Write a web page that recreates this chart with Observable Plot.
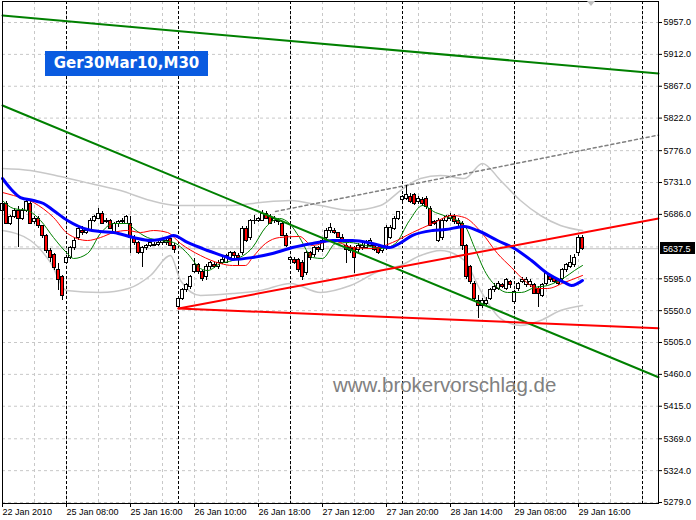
<!DOCTYPE html>
<html><head><meta charset="utf-8">
<script src="https://cdn.jsdelivr.net/npm/d3@7"></script>
<script src="https://cdn.jsdelivr.net/npm/@observablehq/plot@0.6"></script>
<style>
html,body{margin:0;padding:0;background:#fff;}
#wrap{position:relative;width:696px;height:520px;overflow:hidden;}
#title{position:absolute;left:45px;top:51px;width:163px;height:25px;background:#0a5be0;color:#fff;font:bold 15px "DejaVu Sans";line-height:25px;text-align:center;}
#wm{position:absolute;left:333px;top:375px;font:20.5px "Liberation Sans";line-height:1;color:#808080;white-space:nowrap;}
</style></head><body><div id="wrap"></div>
<script>
const symbolName = "Ger30Mar10,M30";
const watermark = "www.brokervorschlag.de";

const open = [5691,5700,5673,5682,5691,5680,5691,5701,5675,5680,
 5669,5655,5634,5628,5607,5597,5618,5625,5638,5652,
 5663,5659,5663,5677,5680,5687,5675,5677,5659,5672,
 5675,5673,5673,5653,5645,5632,5638,5642,5642,5643,
 5645,5645,5651,5642,5555,5567,5579,5583,5605,5614,
 5604,5597,5611,5615,5611,5618,5618,5624,5631,5627,
 5631,5666,5652,5676,5677,5677,5687,5683,5677,5677,
 5673,5656,5621,5622,5621,5618,5603,5631,5628,5638,
 5635,5653,5662,5663,5659,5653,5642,5639,5638,5635,
 5638,5639,5642,5642,5639,5634,5638,5653,5666,5680,
 5706,5708,5711,5713,5703,5707,5708,5694,5675,5649,
 5652,5677,5680,5683,5677,5673,5642,5611,5588,5564,
 5557,5560,5567,5579,5581,5586,5581,5590,5562,5581,
 5591,5586,5586,5586,5581,5571,5588,5597,5595,5593,
 5595,5607,5611,5614,5631,5653];
const high = [5706,5704,5684,5694,5697,5694,5706,5706,5683,5683,
 5670,5658,5638,5631,5617,5600,5628,5641,5652,5667,
 5669,5666,5680,5684,5694,5690,5680,5679,5675,5677,
 5680,5684,5683,5656,5648,5641,5643,5649,5646,5649,
 5652,5653,5652,5645,5570,5581,5588,5600,5624,5617,
 5607,5615,5619,5618,5621,5625,5629,5634,5634,5631,
 5669,5669,5679,5684,5682,5691,5690,5686,5683,5680,
 5675,5659,5627,5625,5624,5621,5634,5634,5641,5641,
 5652,5666,5673,5666,5660,5658,5645,5642,5641,5645,
 5645,5649,5652,5645,5641,5641,5670,5670,5683,5690,
 5713,5727,5715,5715,5711,5710,5711,5697,5677,5680,
 5680,5684,5687,5686,5680,5676,5643,5614,5591,5571,
 5567,5569,5581,5588,5591,5588,5595,5593,5579,5590,
 5597,5597,5594,5588,5584,5588,5605,5600,5598,5595,
 5610,5617,5628,5629,5656,5656];
const low = [5684,5672,5670,5680,5639,5677,5689,5672,5672,5666,
 5652,5631,5618,5607,5579,5564,5615,5622,5635,5649,
 5656,5658,5662,5675,5679,5672,5673,5665,5658,5667,
 5672,5672,5631,5642,5629,5611,5635,5639,5641,5641,
 5642,5642,5641,5631,5552,5564,5576,5580,5603,5601,
 5591,5593,5608,5610,5608,5615,5617,5621,5624,5614,
 5628,5646,5649,5672,5675,5676,5679,5672,5673,5670,
 5655,5639,5618,5615,5604,5593,5600,5621,5625,5632,
 5632,5651,5659,5658,5652,5646,5617,5631,5603,5632,
 5635,5638,5641,5634,5629,5631,5635,5651,5663,5677,
 5703,5706,5701,5699,5700,5697,5693,5669,5670,5646,
 5649,5675,5676,5672,5669,5635,5594,5587,5564,5539,
 5553,5557,5564,5576,5579,5581,5579,5581,5559,5577,
 5588,5583,5583,5573,5555,5569,5586,5590,5588,5586,
 5593,5604,5610,5611,5627,5635];
const close = [5700,5673,5682,5691,5680,5691,5703,5673,5680,5669,
 5655,5634,5624,5610,5593,5571,5625,5638,5649,5665,
 5659,5663,5677,5682,5687,5673,5677,5666,5672,5675,
 5677,5682,5652,5645,5632,5638,5642,5646,5643,5646,
 5649,5649,5642,5635,5567,5579,5586,5597,5614,5604,
 5595,5612,5617,5611,5618,5622,5627,5631,5627,5624,
 5666,5649,5676,5677,5679,5687,5680,5673,5680,5675,
 5656,5642,5624,5618,5607,5597,5631,5624,5638,5635,
 5649,5663,5667,5659,5653,5649,5635,5634,5625,5642,
 5642,5646,5649,5635,5632,5638,5667,5667,5680,5689,
 5710,5713,5704,5701,5708,5700,5696,5670,5673,5677,
 5677,5682,5684,5675,5672,5642,5597,5590,5567,5556,
 5563,5564,5579,5584,5588,5584,5593,5586,5576,5587,
 5594,5594,5591,5574,5574,5586,5603,5593,5591,5588,
 5607,5614,5618,5625,5653,5637.5];

// moving averages (bar index, price)
const blueIdx = [0,2,4.5,7.75,10.25,12.75,16.25,21.25,24.5,27.75,32.75,37,41.25,42.75,46.25,51.25,56.25,57.5,62.5,67.5,72.5,77.5,82.5,87.5,92.5,96.75,99.25,102.5,107.5,110.75,115.5,118.75,123.75,128,132.25,136.25,140.5,142.25,143.75,145];
const blueVal = [5736.7,5722.5,5709.8,5705.6,5701.4,5691.5,5677.4,5664.6,5661.8,5660.4,5653.3,5649.1,5653.3,5656.2,5646.3,5635.0,5625.1,5622.2,5625.1,5630.7,5639.2,5644.9,5649.1,5649.1,5644.9,5639.2,5644.9,5656.2,5663.2,5664.6,5668.9,5663.2,5649.1,5637.8,5620.8,5602.5,5589.8,5585.5,5588.4,5592.6];
const redIdx = [0,2.75,7.75,12.75,16.25,21.25,24.5,27.75,31.25,34.5,37.75,41.25,44.5,49.5,54.5,57.5,60.75,62.5,65.75,69.25,74.25,77.5,82.5,87.5,92.5,97.5,102.5,107.5,112.5,115.5,119.75,123.75,127.25,130.5,133.75,136.25,140.5,145];
const redVal = [5716.9,5712.7,5702.8,5681.6,5659.0,5649.1,5653.3,5660.4,5663.2,5660.4,5663.2,5660.4,5644.9,5627.9,5616.6,5613.8,5613.8,5625.1,5644.9,5653.3,5654.8,5642.0,5649.1,5639.2,5637.8,5646.3,5660.4,5673.1,5684.4,5681.6,5660.4,5630.7,5610.9,5592.6,5581.3,5581.3,5589.8,5599.7];
const greenIdx = [0,2.75,6.25,9.5,12.75,16.25,17.75,21.25,24.5,27.75,31.25,32.75,36.25,39.5,42.75,46.25,49.5,51.25,54.5,57.5,62.5,65.75,69.25,71.75,74.25,77.5,80,83.25,86.75,90.75,95,98.25,101.75,105,108.25,111.75,115.5,118,120.5,123.75,126.25,129.75,133,136.25,140.5,143,145];
const greenVal = [5705.6,5694.3,5691.5,5677.4,5653.3,5630.7,5623.7,5630.7,5659.0,5673.1,5673.1,5666.1,5653.3,5649.1,5646.3,5630.7,5609.5,5606.7,5616.6,5620.8,5639.2,5667.5,5680.2,5673.1,5653.3,5625.1,5623.7,5644.9,5646.3,5642.0,5637.8,5644.9,5677.4,5698.5,5688.6,5681.6,5670.3,5639.2,5606.7,5582.7,5575.7,5575.7,5582.7,5585.5,5596.8,5606.7,5613.8];
const bandUpIdx = [0,7,14.5,22,29.5,37,44,49.5,57.5,64.5,72,79.5,87,94.5,99.5,104.5,109.5,115.5,120,124.5,129.5,134.5,139.5,145];
const bandUpVal = [5750.8,5748.0,5739.5,5729.6,5719.7,5705.6,5698.5,5698.5,5698.5,5702.8,5705.6,5698.5,5691.5,5698.5,5719.7,5736.7,5740.9,5736.7,5758.0,5733.9,5705.6,5684.4,5670.3,5663.2];
const bandLoIdx = [0,7,12,16,24.5,31.5,37,42,44.5,49.5,57.5,64.5,72,79.5,87,94.5,99.5,104.5,109.5,115.5,119.5,124.5,129.5,134.5,139.5,145];
const bandLoVal = [5663.2,5649.1,5618.0,5578.5,5575.7,5581.3,5599.7,5627.9,5592.6,5571.4,5574.2,5578.5,5588.4,5575.7,5585.5,5606.7,5613.8,5627.9,5635.0,5620.8,5578.5,5538.9,5529.1,5536.1,5550.2,5557.3];

// trend lines (bar index, price)
const greenTopIdx = [0,164], greenTopVal = [5966.9,5885.0];
const greenLowIdx = [0,164], greenLowVal = [5839.8,5456.0];
const redUpIdx = [44,164], redUpVal = [5553.1,5680.2];
const redFlatIdx = [44,164], redFlatVal = [5553.1,5525.2];
const grayDashIdx = [68.25,164], grayDashVal = [5690.1,5798.0];

// axes
const yTicks = [5279,5324,5369,5415,5460,5505,5550,5595,5686,5731,5776,5822,5867,5912,5957];
const yGrid = [5279,5324,5369,5415,5460,5505,5550,5595,5640,5686,5731,5776,5822,5867,5912,5957];
const xTickIdx = [0,16,32,48,64,80,96,112,128,144];
const xTickLabels = ["22 Jan 2010","25 Jan 08:00","25 Jan 16:00","26 Jan 10:00","26 Jan 18:00","27 Jan 12:00","27 Jan 20:00","28 Jan 14:00","29 Jan 08:00","29 Jan 16:00"];
const xGridIdx = [8,16,24,32,40,48,56,64,72,80,88,96,104,112,120,128,136,144,152,160];
const daySepIdx = [16,44,72,100,128,160];
const lastPrice = 5637.5;
const shiftMarkIdx = 147.25;

const bars = close.map((c, i) => ({i, o: open[i], h: high[i], l: low[i], c}));
const pts = (ix, vs) => ix.map((x, k) => ({x, y: vs[k]}));

const chart = Plot.plot({
  width: 696, height: 520,
  marginLeft: 2, marginRight: 38, marginTop: 1, marginBottom: 17,
  x: {type: "linear", domain: [0, 164], axis: null},
  y: {type: "linear", domain: [5277.6, 5986.7], axis: null},
  style: {fontFamily: "Liberation Sans", fontSize: "9px", color: "black", background: "white"},
  marks: [
    Plot.gridY(yGrid, {stroke: "#c8c8c8", strokeOpacity: 1, strokeDasharray: "3,3"}),
    Plot.gridX(xGridIdx, {stroke: "#c8c8c8", strokeOpacity: 1, strokeDasharray: "3,3"}),
    Plot.ruleX(daySepIdx, {stroke: "black", strokeDasharray: "3,2", shapeRendering: "crispEdges"}),
    Plot.ruleY([lastPrice], {stroke: "#c0c0c0"}),
    Plot.line(pts(bandUpIdx, bandUpVal), {x: "x", y: "y", stroke: "#c8c8c8", curve: "monotone-x"}),
    Plot.line(pts(bandLoIdx, bandLoVal), {x: "x", y: "y", stroke: "#c8c8c8", curve: "monotone-x"}),
    Plot.line(pts(grayDashIdx, grayDashVal), {x: "x", y: "y", stroke: "#808080", strokeDasharray: "3,3"}),
    Plot.ruleX(bars, {x: "i", y1: "l", y2: "h", stroke: "black", shapeRendering: "crispEdges"}),
    Plot.rect(bars, {x1: d => d.i - 0.3, x2: d => d.i + 0.3,
      y1: d => Math.min(d.o, d.c), y2: d => Math.max(d.o, d.c),
      fill: d => d.c >= d.o ? "white" : "red", stroke: "black", shapeRendering: "crispEdges"}),
    Plot.line(pts(greenIdx, greenVal), {x: "x", y: "y", stroke: "#008000", strokeWidth: 1, curve: "monotone-x"}),
    Plot.line(pts(redIdx, redVal), {x: "x", y: "y", stroke: "#ff0000", strokeWidth: 1, curve: "monotone-x"}),
    Plot.line(pts(blueIdx, blueVal), {x: "x", y: "y", stroke: "#0000ff", strokeWidth: 3, curve: "monotone-x"}),
    Plot.line(pts(greenTopIdx, greenTopVal), {x: "x", y: "y", stroke: "#008000", strokeWidth: 2}),
    Plot.line(pts(greenLowIdx, greenLowVal), {x: "x", y: "y", stroke: "#008000", strokeWidth: 2}),
    Plot.line(pts(redUpIdx, redUpVal), {x: "x", y: "y", stroke: "#ff0000", strokeWidth: 2}),
    Plot.line(pts(redFlatIdx, redFlatVal), {x: "x", y: "y", stroke: "#ff0000", strokeWidth: 2}),
    Plot.frame({stroke: "black"}),
    Plot.axisY(yTicks, {anchor: "right", tickSize: 3, tickPadding: 2, tickFormat: d => d.toFixed(1), fill: "black"}),
    Plot.axisX(xTickIdx, {anchor: "bottom", tickSize: 4, tickPadding: 1, textAnchor: "start",
      tickFormat: d => xTickLabels[xTickIdx.indexOf(d)], fill: "black"})
  ]
});

const wrap = document.getElementById("wrap");
wrap.appendChild(chart);

// current price tag and chart-shift marker, placed with the plot's scales
const sx = chart.scale("x"), sy = chart.scale("y");
const svg = d3.select(chart);
const py = sy.apply(lastPrice);
svg.append("rect").attr("x", 660).attr("y", Math.round(py) - 6).attr("width", 35).attr("height", 12).attr("fill", "black");
svg.append("text").attr("x", 663).attr("y", Math.round(py) + 3.5).attr("fill", "white")
  .attr("text-anchor", "start")
  .attr("font-family", "Liberation Sans").attr("font-size", 9).text(lastPrice.toFixed(1));
const mx = sx.apply(shiftMarkIdx);
svg.append("path").attr("d", `M${mx-4},1L${mx+4},1L${mx},6Z`).attr("fill", "#c0c0c0");

const t = document.createElement("div"); t.id = "title"; t.textContent = symbolName; wrap.appendChild(t);
const w = document.createElement("div"); w.id = "wm"; w.textContent = watermark; wrap.appendChild(w);
</script>
</body></html>
